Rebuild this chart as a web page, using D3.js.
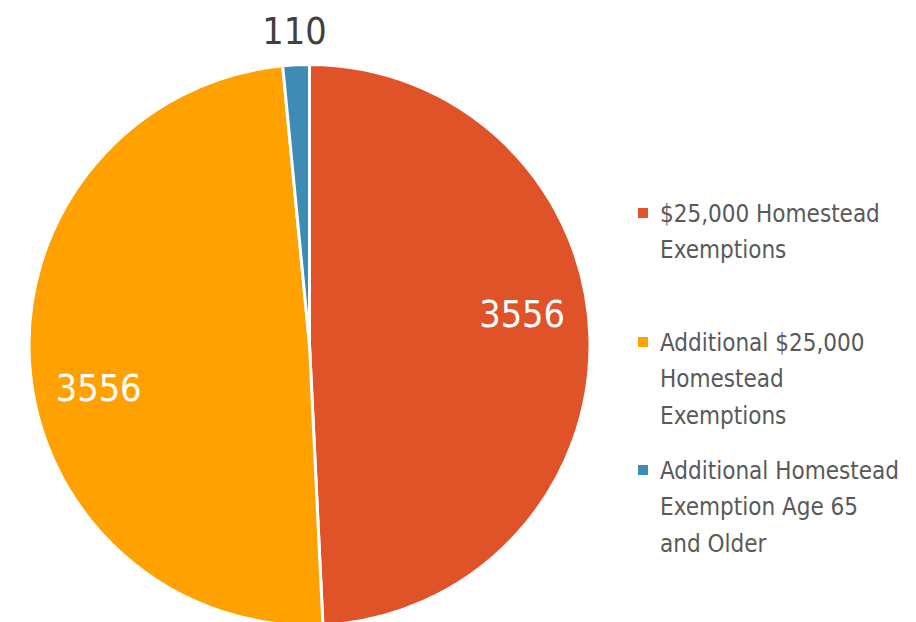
<!DOCTYPE html>
<html>
<head>
<meta charset="utf-8">
<script src="https://cdn.jsdelivr.net/npm/d3@7"></script>
<style>
  body { margin: 0; background: #fff; }
  svg { display: block; }
  text { font-family: "DejaVu Sans Condensed", "Liberation Sans Narrow", sans-serif; }
</style>
</head>
<body>
<svg id="chart" width="916" height="622"></svg>
<script>
// Daten
const kategorien = ["$25,000 Homestead Exemptions", "Additional $25,000 Homestead Exemptions", "Additional Homestead Exemption Age 65 and Older"];
const werte = [3556, 3556, 110];
const farben = ["#E05328", "#FFA100", "#3E8BB6"];
// Legendenzeilen (so umbrochen wie im Original)
const legendZeilen = [
  ["$25,000 Homestead", "Exemptions"],
  ["Additional $25,000", "Homestead", "Exemptions"],
  ["Additional Homestead", "Exemption Age 65", "and Older"]
];

const svg = d3.select("#chart");
const cx = 309.5, cy = 345, r = 280.5;

const pie = d3.pie().sort(null).value(d => d)(werte);
const arc = d3.arc().innerRadius(0).outerRadius(r);

const g = svg.append("g").attr("transform", `translate(${cx},${cy})`);

g.selectAll("path")
  .data(pie)
  .enter()
  .append("path")
  .attr("d", arc)
  .attr("fill", (d, i) => farben[i])
  .attr("stroke", "#fff")
  .attr("stroke-width", 3)
  .attr("stroke-linejoin", "round");

// Beschriftungen: große Stücke innen, kleines außen
function labelPos(d) {
  const gross = (d.endAngle - d.startAngle) > 0.5;
  const a = (d.startAngle + d.endAngle) / 2 - (gross ? 0.125 : 0);
  const rr = gross ? 215 : 315;
  return [rr * Math.sin(a), -rr * Math.cos(a), gross];
}

g.selectAll("text.wert")
  .data(pie)
  .enter()
  .append("text")
  .attr("class", "wert")
  .attr("x", d => labelPos(d)[0])
  .attr("y", d => labelPos(d)[1])
  .attr("dy", "0.36em")
  .attr("text-anchor", "middle")
  .attr("font-size", 37.5)
  .attr("fill", d => labelPos(d)[2] ? "#fff" : "#404040")
  .text(d => d.data);

// Legende
const legTop = [213, 342, 470];
const zeilenAbstand = 36.5;
const leg = svg.append("g");

legendZeilen.forEach((zeilen, i) => {
  leg.append("rect")
    .attr("x", 638)
    .attr("y", legTop[i] - 5)
    .attr("width", 10)
    .attr("height", 10)
    .attr("fill", farben[i]);
  leg.append("text")
    .attr("x", 660)
    .attr("y", legTop[i])
    .attr("font-size", 24)
    .attr("fill", "#595959")
    .selectAll("tspan")
    .data(zeilen)
    .enter()
    .append("tspan")
    .attr("x", 660)
    .attr("y", (z, j) => legTop[i] + j * zeilenAbstand)
    .attr("dy", "0.36em")
    .text(z => z);
});
</script>
</body>
</html>
